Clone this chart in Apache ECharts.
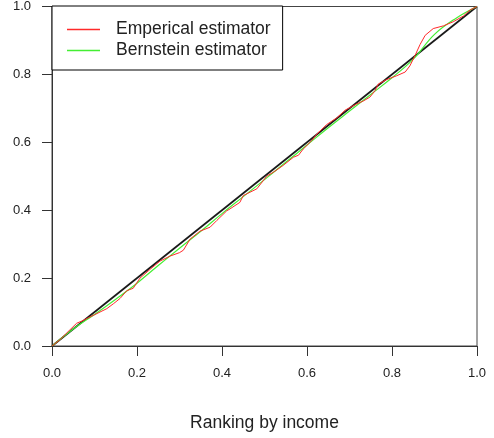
<!DOCTYPE html>
<html>
<head>
<meta charset="utf-8">
<script src="https://cdn.jsdelivr.net/npm/echarts@6/dist/echarts.min.js"></script>
<style>
  html, body { margin: 0; padding: 0; background: #fff; }
  #chart { width: 494px; height: 438px; }
</style>
</head>
<body>
<div id="chart"></div>
<script>
// Empirical estimator (step-like sample curve)
const empX = [0, 0.02, 0.04, 0.058, 0.073, 0.085, 0.1, 0.129, 0.145, 0.16, 0.176, 0.191, 0.207, 0.231, 0.254,
  0.278, 0.3, 0.309, 0.325, 0.348, 0.372, 0.388, 0.411, 0.419, 0.442, 0.45, 0.458, 0.482, 0.505, 0.521,
  0.544, 0.568, 0.58, 0.591, 0.611, 0.623, 0.646, 0.67, 0.69, 0.705, 0.717, 0.733, 0.748, 0.76, 0.768,
  0.788, 0.811, 0.831, 0.842, 0.854, 0.866, 0.878, 0.897, 0.921, 0.944, 0.968, 0.984, 1];
const empY = [0, 0.02, 0.045, 0.067, 0.075, 0.083, 0.092, 0.11, 0.125, 0.14, 0.163, 0.17, 0.2, 0.226, 0.25,
  0.265, 0.275, 0.282, 0.315, 0.338, 0.35, 0.37, 0.398, 0.404, 0.423, 0.443, 0.448, 0.463, 0.5, 0.512,
  0.532, 0.556, 0.562, 0.58, 0.605, 0.624, 0.652, 0.672, 0.695, 0.705, 0.713, 0.722, 0.733, 0.752, 0.772,
  0.785, 0.796, 0.807, 0.825, 0.855, 0.888, 0.915, 0.935, 0.943, 0.955, 0.972, 0.99, 1];

// Bernstein polynomial estimator (smooth curve)
const bernX = [0, 0.05, 0.1, 0.15, 0.2, 0.25, 0.3, 0.35, 0.4, 0.45, 0.5, 0.55, 0.6, 0.65, 0.7, 0.75, 0.8, 0.85, 0.9, 0.95, 1];
const bernY = [0, 0.05, 0.093, 0.138, 0.185, 0.237, 0.288, 0.338, 0.39, 0.44, 0.49, 0.541, 0.592, 0.643, 0.692, 0.741, 0.79, 0.845, 0.918, 0.965, 1];

// Line of equality
const diagX = [0, 1];
const diagY = [0, 1];

const axisTicks = [0, 0.2, 0.4, 0.6, 0.8, 1.0];

const pairs = (xs, ys) => xs.map((x, i) => [x, ys[i]]);

const font = 'Liberation Sans, Arial, sans-serif';

const chart = echarts.init(document.getElementById('chart'), null, { renderer: 'canvas' });

const axisCommon = {
  type: 'value',
  min: axisTicks[0],
  max: axisTicks[axisTicks.length - 1],
  interval: 0.2,
  splitLine: { show: false },
  axisLine: { show: true, onZero: false, lineStyle: { color: '#333', width: 1 } },
  axisTick: { show: true, inside: false, length: 10, lineStyle: { color: '#333', width: 1 } },
  axisLabel: {
    color: '#222',
    fontSize: 13,
    fontFamily: font,
    margin: 21,
    formatter: v => v.toFixed(1)
  }
};

chart.setOption({
  animation: false,
  backgroundColor: '#fff',
  grid: {
    left: 52, top: 6, width: 425, height: 340,
    show: true, borderColor: '#444', borderWidth: 1, backgroundColor: 'transparent'
  },
  xAxis: Object.assign({}, axisCommon, {
    name: 'Ranking by income',
    nameLocation: 'middle',
    nameGap: 68,
    nameTextStyle: { color: '#222', fontSize: 17.5, fontFamily: font }
  }),
  yAxis: Object.assign({}, axisCommon),
  legend: {
    left: 52, top: 6,
    orient: 'vertical',
    backgroundColor: '#fff',
    borderColor: '#000',
    borderWidth: 1,
    borderRadius: 0,
    padding: [13, 12, 9, 15],
    itemGap: 0,
    itemWidth: 33,
    itemHeight: 1.5,
    icon: 'rect',
    textStyle: { color: '#222', fontSize: 17.5, fontFamily: font, lineHeight: 21, padding: [0, 0, 0, 11] },
    data: ['Emperical estimator', 'Bernstein estimator']
  },
  series: [
    {
      name: 'Line of equality',
      type: 'line',
      data: pairs(diagX, diagY),
      symbol: 'none',
      lineStyle: { color: '#1a1a1a', width: 1.7 },
      z: 1
    },
    {
      name: 'Emperical estimator',
      type: 'line',
      data: pairs(empX, empY),
      symbol: 'none',
      itemStyle: { color: '#ff2a2a' },
      lineStyle: { color: '#ff2a2a', width: 1 },
      z: 3
    },
    {
      name: 'Bernstein estimator',
      type: 'line',
      data: pairs(bernX, bernY),
      smooth: 0.4,
      symbol: 'none',
      itemStyle: { color: '#44ee33' },
      lineStyle: { color: '#44ee33', width: 1.2 },
      z: 2
    }
  ]
});
</script>
</body>
</html>
